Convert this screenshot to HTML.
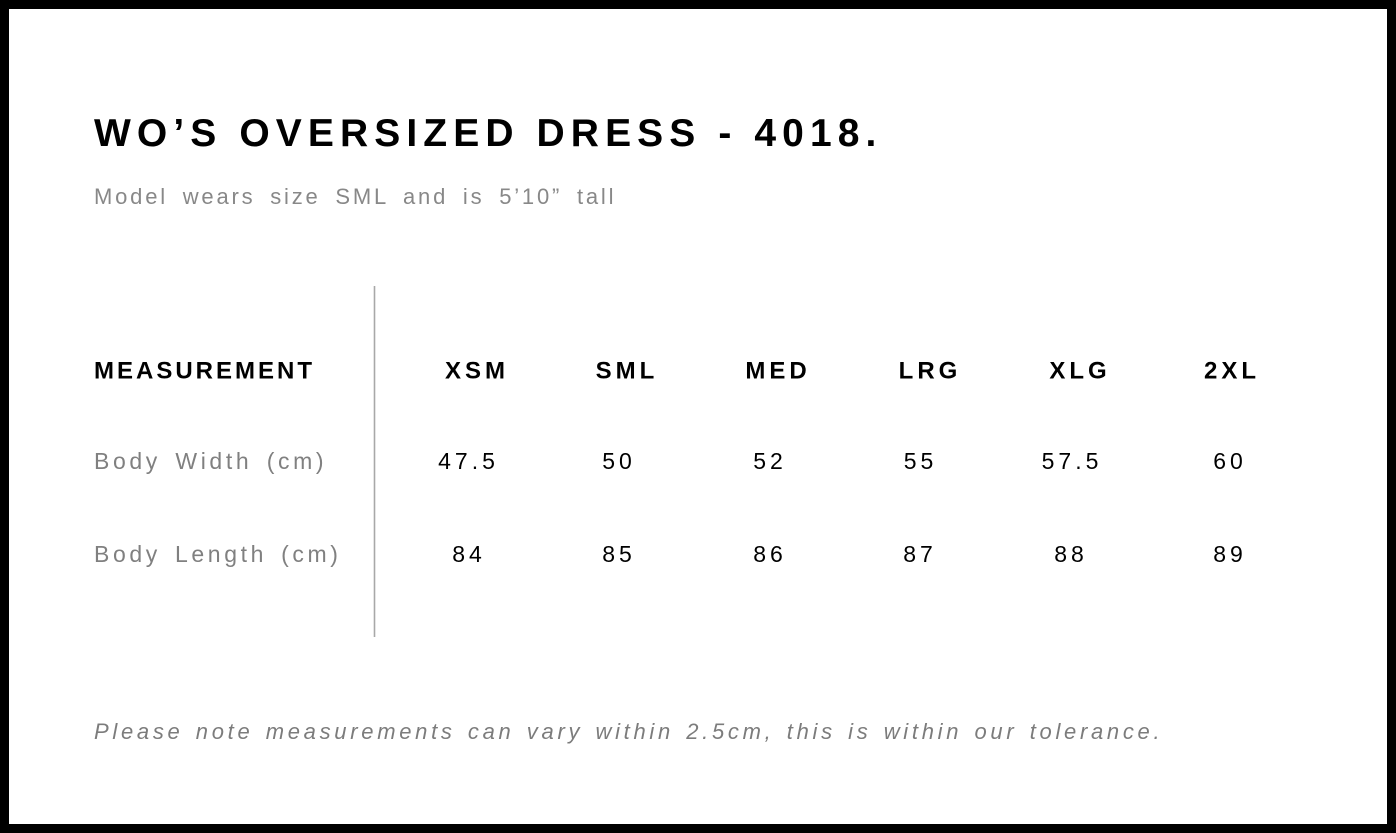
<!DOCTYPE html>
<html>
<head>
<meta charset="utf-8">
<style>
  html, body { margin: 0; padding: 0; background: #000; }
  body { width: 1396px; height: 833px; overflow: hidden; }
  svg { display: block; }
  text { font-family: "Liberation Sans", Arial, Helvetica, sans-serif; }
</style>
</head>
<body>
<svg width="1396" height="833" viewBox="0 0 1396 833" xmlns="http://www.w3.org/2000/svg">
  <rect x="0" y="0" width="1396" height="833" fill="#000"/>
  <rect x="9" y="9" width="1378" height="815" fill="#fff"/>

  <!-- Title -->
  <text x="94" y="146" font-size="39" font-weight="bold" fill="#000" letter-spacing="6.1">WO’S OVERSIZED DRESS - 4018.</text>
  <!-- Subtitle -->
  <text x="94" y="204" font-size="22" fill="#888" letter-spacing="2.8" word-spacing="5.9">Model wears size SML and is 5’10” tall</text>

  <!-- Divider -->
  <line x1="374.5" y1="286" x2="374.5" y2="637" stroke="#a8a8a8" stroke-width="1.6"/>

  <!-- Header row -->
  <text x="94" y="378.5" font-size="24" font-weight="bold" fill="#000" letter-spacing="3">MEASUREMENT</text>
  <g font-size="24" font-weight="bold" fill="#000" letter-spacing="4" text-anchor="middle">
    <text x="477" y="378.5">XSM</text>
    <text x="627" y="378.5">SML</text>
    <text x="778" y="378.5">MED</text>
    <text x="930" y="378.5">LRG</text>
    <text x="1080" y="378.5">XLG</text>
    <text x="1232" y="378.5">2XL</text>
  </g>

  <!-- Row labels -->
  <text x="94" y="469" font-size="23" fill="#808080" letter-spacing="3.6" word-spacing="4.6">Body Width (cm)</text>
  <text x="94" y="562" font-size="23" fill="#808080" letter-spacing="3.6" word-spacing="4.2">Body Length (cm)</text>

  <!-- Values -->
  <g font-size="23" fill="#000" letter-spacing="4" text-anchor="middle">
    <text x="468.5" y="469">47.5</text>
    <text x="619" y="469">50</text>
    <text x="770" y="469">52</text>
    <text x="920.5" y="469">55</text>
    <text x="1072" y="469">57.5</text>
    <text x="1230" y="469">60</text>

    <text x="469" y="562">84</text>
    <text x="619" y="562">85</text>
    <text x="770" y="562">86</text>
    <text x="920" y="562">87</text>
    <text x="1071" y="562">88</text>
    <text x="1230" y="562">89</text>
  </g>

  <!-- Footer note -->
  <text x="94" y="739" font-size="22" font-style="italic" fill="#7c7c7c" letter-spacing="3.7" word-spacing="2.5">Please note measurements can vary within 2.5cm, this is within our tolerance.</text>
</svg>
</body>
</html>
